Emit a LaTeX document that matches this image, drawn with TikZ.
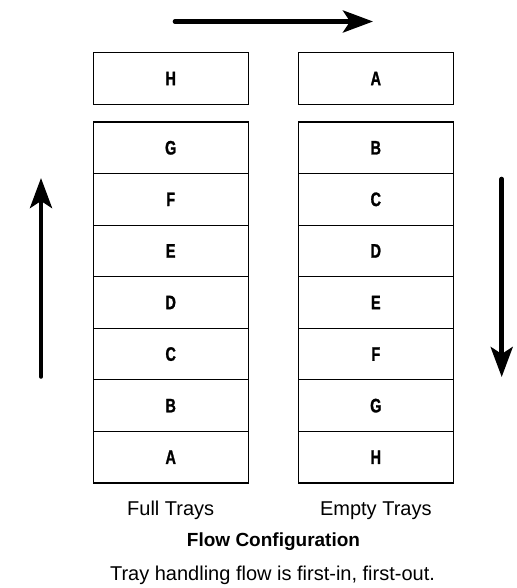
\documentclass[tikz,border=0pt]{standalone}
\usepackage{fontspec}
\setmainfont{Liberation Sans}
\newfontfamily\trayfont{Liberation Sans Bold}[FakeStretch=0.74,FakeBold=1.2]
\usetikzlibrary{arrows.meta}
\begin{document}
\begin{tikzpicture}[x=1pt,y=-1pt,
  tray/.style={draw=black,line width=1.1pt,minimum width=155pt,minimum height=51.6pt,
    inner sep=0pt,outer sep=0pt,font=\trayfont\fontsize{19.5}{19.5}\selectfont},
  flow/.style={line width=4.6pt,-{Stealth[length=30pt,width=22pt,inset=7pt]},line cap=round},
  captext/.style={font=\fontsize{20}{20}\selectfont,anchor=base},
]
\useasboundingbox (0,0) rectangle (516,588);
% top single trays
\node[tray] (lh) at (170.7,78.5) {H};
\node[tray] (ra) at (375.8,78.5) {A};
% left stack
\foreach \l [count=\i] in {G,F,E,D,C,B,A}{
  \node[tray] (l\l) at (170.7,{122+51.57*(\i-0.5)}) {\l};
}
\foreach \l [count=\i] in {B,C,D,E,F,G,H}{
  \node[tray] (r\l) at (375.8,{122+51.57*(\i-0.5)}) {\l};
}
% arrows
\coordinate (ts) at (175,21.5);
\coordinate (te) at (373,21.5);
\coordinate (ls) at (41,376.5);
\coordinate (le) at (41,178);
\coordinate (rs) at (501.7,179);
\coordinate (re) at (501.7,377);
\draw[flow] (ts) -- (te);
\draw[flow] (ls) -- (le);
\draw[flow] (rs) -- (re);
% captions
\node[captext] (fullcap) at (170.7,515) {Full Trays};
\node[captext] (emptycap) at (375.8,515) {Empty Trays};
\node[captext,font=\bfseries\fontsize{19}{19}\selectfont] (title) at (273.5,546.7) {Flow Configuration};
\node[captext] (note) at (272.5,580.7) {Tray handling flow is first-in, first-out.};
\end{tikzpicture}
\end{document}
